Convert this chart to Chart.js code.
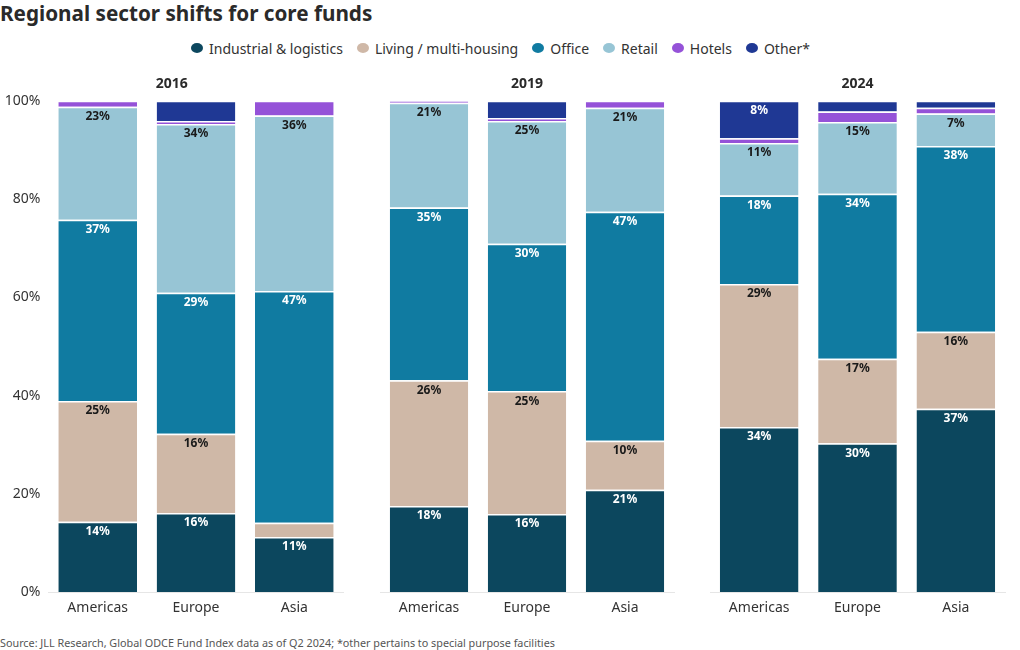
<!DOCTYPE html>
<html>
<head>
<meta charset="utf-8">
<script src="https://cdn.jsdelivr.net/npm/chart.js@4.4.1/dist/chart.umd.min.js"></script>
<style>
  body { margin: 0; background: #fff; font-family: "Noto Sans", sans-serif; }
  #page { position: relative; width: 1020px; height: 650px; overflow: hidden; }
  h1 { position: absolute; left: 0; top: 0; margin: 0; font-size: 20.7px; line-height: 26px; font-weight: 700; color: #2a2a2a; }
  #legend { position: absolute; left: 191px; top: 38px; height: 20px; display: flex; align-items: center; font-size: 14px; color: #333; }
  #legend .item { display: flex; align-items: center; margin-right: 14px; white-space: nowrap; }
  #legend .dot { width: 12px; height: 10px; border-radius: 50%; margin-right: 6px; }
  canvas { position: absolute; top: 66px; }
  #source { position: absolute; left: 0; top: 635px; font-size: 10.8px; color: #555; white-space: nowrap; }
</style>
</head>
<body>
<div id="page">
  <h1>Regional sector shifts for core funds</h1>
  <div id="legend"></div>
  <canvas id="c2016" width="407" height="556" style="left:0px"></canvas>
  <canvas id="c2019" width="306" height="556" style="left:380px"></canvas>
  <canvas id="c2024" width="308" height="556" style="left:710px"></canvas>
  <div id="source">Source: JLL Research, Global ODCE Fund Index data as of Q2 2024; *other pertains to special purpose facilities</div>
</div>
<script>
// Regional sector shifts — data (rows = year, columns = region)
const years = ["2016", "2019", "2024"];
const regions = ["Americas", "Europe", "Asia"];
const sectors = ["Industrial & logistics", "Living / multi-housing", "Office", "Retail", "Hotels", "Other*"];

const industrial = [[14.3, 16.1, 11.2], [17.5, 15.9, 20.8], [33.6, 30.3, 37.3]];
const living     = [[24.6, 16.1, 2.9],  [25.6, 25.0, 10.0], [29.1, 17.2, 15.7]];
const office     = [[36.9, 28.7, 47.2], [35.2, 30.0, 46.6], [18.0, 33.6, 37.8]];
const retail     = [[23.0, 34.4, 35.7], [21.3, 25.0, 21.2], [10.7, 14.6, 6.6]];
const hotels     = [[1.2, 0.6, 3.0],    [0.4, 0.6, 1.4],    [1.0, 2.1, 1.2]];
const other      = [[0, 4.1, 0],        [0, 3.5, 0],        [7.6, 2.2, 1.4]];

const yTicks = [0, 20, 40, 60, 80, 100];

const COLORS      = ["#0c475e", "#cfb8a7", "#107ba1", "#97c5d5", "#9552d8", "#1f3894"];
const TEXT_COLORS = ["#fff", "#1a1a1a", "#fff", "#1a1a1a", "#fff", "#fff"];
const FONT = "'Noto Sans', sans-serif";

// legend
const legendEl = document.getElementById("legend");
legendEl.innerHTML = sectors.map((s, i) =>
  `<div class="item"><span class="dot" style="background:${COLORS[i]}"></span>${s}</div>`
).join("");

// labels inside the segments
const segmentLabels = {
  id: "segmentLabels",
  afterDatasetsDraw(chart) {
    const ctx = chart.ctx;
    ctx.save();
    ctx.font = "bold 12px " + FONT;
    ctx.textAlign = "center";
    ctx.textBaseline = "middle";
    chart.data.datasets.forEach((ds, di) => {
      chart.getDatasetMeta(di).data.forEach((bar, i) => {
        const v = ds.data[i];
        if (v < 5) return;
        ctx.fillStyle = TEXT_COLORS[di];
        ctx.fillText(Math.round(v) + "%", bar.x, bar.y + 10);
      });
    });
    ctx.restore();
  }
};

function buildChart(id, yi, showY, padRight) {
  const series = [industrial, living, office, retail, hotels, other];
  return new Chart(document.getElementById(id), {
    type: "bar",
    data: {
      labels: regions,
      datasets: series.map((s, si) => ({
        label: sectors[si],
        data: s[yi],
        backgroundColor: COLORS[si],
        borderColor: "#fff",
        borderWidth: { top: 1.5, bottom: 0, left: 0, right: 0 },
        borderSkipped: false,
        barPercentage: 0.8,
        categoryPercentage: 1
      }))
    },
    options: {
      responsive: false,
      animation: false,
      layout: { padding: { right: padRight, top: 0, bottom: 0, left: 0 } },
      plugins: {
        legend: { display: false },
        tooltip: { enabled: false },
        title: {
          display: true,
          text: years[yi],
          color: "#2a2a2a",
          font: { family: FONT, size: 14, weight: "bold" },
          padding: { top: 10, bottom: 8 }
        }
      },
      scales: {
        x: {
          stacked: true,
          grid: { display: false, drawTicks: false },
          border: { display: true, color: "#e6e6e6", width: 1 },
          ticks: { color: "#333", font: { family: FONT, size: 14 }, padding: 8 },
          afterFit: s => { s.height = 30; }
        },
        y: {
          stacked: true,
          display: showY,
          min: 0,
          max: 100,
          afterBuildTicks: s => { s.ticks = yTicks.map(v => ({ value: v })); },
          grid: { display: false, drawTicks: false },
          border: { display: false },
          ticks: { color: "#333", font: { family: FONT, size: 14 }, padding: 8, callback: v => v + "%" },
          afterFit: s => { s.width = showY ? 48.5 : 0; }
        }
      }
    },
    plugins: [segmentLabels]
  });
}

buildChart("c2016", 0, true, 63.5);
buildChart("c2019", 1, false, 12);
buildChart("c2024", 2, false, 13);
</script>
</body>
</html>
